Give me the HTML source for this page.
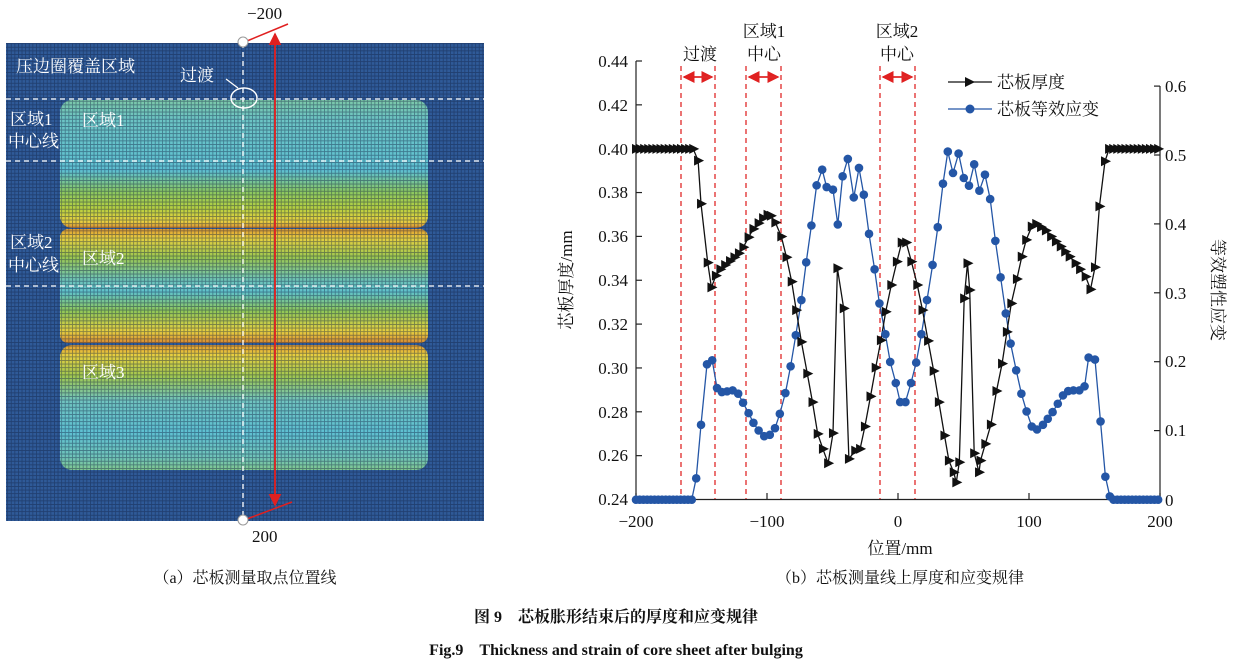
<!DOCTYPE html>
<html><head><meta charset="utf-8">
<style>
html,body{margin:0;padding:0;background:#fff;}
body{width:1233px;height:665px;overflow:hidden;position:relative;}
svg{position:absolute;left:0;top:0;}
.s{font-family:"Liberation Serif","Noto Serif CJK SC",serif;}
</style></head><body>
<svg id="sv" width="1233" height="665" viewBox="0 0 1233 665" xmlns="http://www.w3.org/2000/svg">
<defs>
<linearGradient id="b1" x1="0" y1="0" x2="0" y2="1">
<stop offset="0" stop-color="#7cc8a8"/><stop offset="0.15" stop-color="#6cc4c4"/><stop offset="0.55" stop-color="#5ec0d2"/><stop offset="0.72" stop-color="#8cc860"/><stop offset="0.85" stop-color="#b8d040"/><stop offset="0.95" stop-color="#e8d040"/><stop offset="1" stop-color="#d88a30"/>
</linearGradient>
<linearGradient id="b2" x1="0" y1="0" x2="0" y2="1">
<stop offset="0" stop-color="#e09a30"/><stop offset="0.08" stop-color="#e8d040"/><stop offset="0.25" stop-color="#9cc850"/><stop offset="0.45" stop-color="#6ec4b8"/><stop offset="0.55" stop-color="#60c2cc"/><stop offset="0.72" stop-color="#90c858"/><stop offset="0.9" stop-color="#e8d040"/><stop offset="1" stop-color="#d88a30"/>
</linearGradient>
<linearGradient id="b3" x1="0" y1="0" x2="0" y2="1">
<stop offset="0" stop-color="#e09a30"/><stop offset="0.08" stop-color="#e8d040"/><stop offset="0.25" stop-color="#a0c850"/><stop offset="0.45" stop-color="#70c4c0"/><stop offset="0.7" stop-color="#5ec0d2"/><stop offset="0.9" stop-color="#70c4b8"/><stop offset="1" stop-color="#80c890"/>
</linearGradient>
<pattern id="grid" width="3.6" height="3.6" patternUnits="userSpaceOnUse">
<rect width="3.6" height="3.6" fill="none"/>
<path d="M0 0.4H3.6M0.4 0V3.6" stroke="#102040" stroke-opacity="0.45" stroke-width="0.9"/>
</pattern>
<marker id="ah" markerWidth="8" markerHeight="8" refX="7" refY="4" orient="auto"><path d="M0 0L8 4L0 8z" fill="#e02020"/></marker>
</defs>

<!-- left image -->
<rect x="6" y="43" width="478" height="478" fill="#2f5a98"/>
<rect x="60" y="100" width="368" height="128" rx="12" fill="url(#b1)"/>
<rect x="60" y="229" width="368" height="114" rx="8" fill="url(#b2)"/>
<rect x="60" y="345" width="368" height="125" rx="12" fill="url(#b3)"/>
<rect x="6" y="43" width="478" height="478" fill="url(#grid)"/>
<g stroke="#fff" stroke-width="1.3" stroke-dasharray="5,4" fill="none">
<line x1="6" y1="99" x2="484" y2="99"/><line x1="6" y1="161" x2="484" y2="161"/><line x1="6" y1="286" x2="484" y2="286"/>
<line x1="243" y1="43" x2="243" y2="520"/>
</g>
<ellipse cx="244" cy="98" rx="13" ry="10" fill="none" stroke="#fff" stroke-width="1.5"/>
<line x1="226" y1="79" x2="238" y2="88" stroke="#fff" stroke-width="1.2"/>
<line x1="275" y1="505" x2="275" y2="34" stroke="#e02020" stroke-width="1.6" marker-end="url(#ah)"/>
<line x1="275" y1="34" x2="275" y2="505" stroke="#e02020" stroke-width="1.6" marker-end="url(#ah)"/>
<line x1="247" y1="41" x2="288" y2="24" stroke="#e02020" stroke-width="1.5"/>
<line x1="247" y1="519" x2="292" y2="502" stroke="#e02020" stroke-width="1.5"/>
<circle cx="243" cy="42" r="5" fill="#fff" stroke="#999" stroke-width="1"/>
<circle cx="243" cy="520" r="5" fill="#fff" stroke="#999" stroke-width="1"/>
<g class="s" font-size="17" fill="#111">
<text x="247" y="19">−200</text><text x="252" y="542">200</text>
</g>
<g class="s" font-size="17" fill="#fff">
<text x="16" y="72">压边圈覆盖区域</text>
<text x="180" y="81">过渡</text>
<text x="10" y="125">区域1</text><text x="8" y="147">中心线</text>
<text x="82" y="126">区域1</text>
<text x="10" y="248">区域2</text><text x="8" y="271">中心线</text>
<text x="82" y="264">区域2</text>
<text x="82" y="378">区域3</text>
</g>

<!-- chart axes -->
<g stroke="#222" stroke-width="1.2" fill="none">
<path d="M636 61V499.5H1160V86"/>
</g>
<g id="ticks" stroke="#222" stroke-width="1.2"></g>
<g class="s" font-size="17" fill="#111" text-anchor="end">
<text x="628" y="67">0.44</text><text x="628" y="111">0.42</text><text x="628" y="155">0.40</text><text x="628" y="198">0.38</text><text x="628" y="242">0.36</text><text x="628" y="286">0.34</text><text x="628" y="330">0.32</text><text x="628" y="374">0.30</text><text x="628" y="418">0.28</text><text x="628" y="461">0.26</text><text x="628" y="505">0.24</text>
</g>
<g class="s" font-size="17" fill="#111">
<text x="1165" y="92">0.6</text><text x="1165" y="161">0.5</text><text x="1165" y="230">0.4</text><text x="1165" y="299">0.3</text><text x="1165" y="367">0.2</text><text x="1165" y="436">0.1</text><text x="1165" y="506">0</text>
</g>
<g class="s" font-size="17" fill="#111" text-anchor="middle">
<text x="636" y="527">−200</text><text x="767" y="527">−100</text><text x="898" y="527">0</text><text x="1029" y="527">100</text><text x="1160" y="527">200</text>
<text x="900" y="554">位置/mm</text>
<text x="700" y="60">过渡</text>
<text x="764" y="37">区域1</text><text x="764" y="60">中心</text>
<text x="897" y="37">区域2</text><text x="897" y="60">中心</text>
</g>
<text class="s" font-size="17" fill="#111" text-anchor="middle" transform="translate(572,280) rotate(-90)">芯板厚度/mm</text>
<text class="s" font-size="17" fill="#111" text-anchor="middle" transform="translate(1212,290) rotate(90)">等效塑性应变</text>

<!-- red dashed -->
<g stroke="#e02828" stroke-width="1.3" stroke-dasharray="5,4">
<line x1="681" y1="66" x2="681" y2="499"/><line x1="715" y1="66" x2="715" y2="499"/>
<line x1="746" y1="66" x2="746" y2="499"/><line x1="781" y1="66" x2="781" y2="499"/>
<line x1="880" y1="66" x2="880" y2="499"/><line x1="915" y1="66" x2="915" y2="499"/>
</g>
<g stroke="#e02828" stroke-width="1.5">
<line x1="684" y1="77" x2="712" y2="77" marker-end="url(#ah)"/><line x1="712" y1="77" x2="684" y2="77" marker-end="url(#ah)"/>
<line x1="749" y1="77" x2="778" y2="77" marker-end="url(#ah)"/><line x1="778" y1="77" x2="749" y2="77" marker-end="url(#ah)"/>
<line x1="883" y1="77" x2="912" y2="77" marker-end="url(#ah)"/><line x1="912" y1="77" x2="883" y2="77" marker-end="url(#ah)"/>
</g>

<g id="series"></g>

<!-- legend -->
<line x1="948" y1="82" x2="992" y2="82" stroke="#111" stroke-width="1.3"/>
<path d="M965 77L975 82L965 87z" fill="#111"/>
<line x1="948" y1="109" x2="992" y2="109" stroke="#2456a6" stroke-width="1.3"/>
<circle cx="970" cy="109" r="4.5" fill="#2456a6"/>
<g class="s" font-size="17" fill="#111">
<text x="997" y="88">芯板厚度</text><text x="997" y="115">芯板等效应变</text>
</g>

<!-- captions -->
<g class="s" font-size="16" fill="#111" text-anchor="middle">
<text x="245" y="583">（a）芯板测量取点位置线</text>
<text x="900" y="583">（b）芯板测量线上厚度和应变规律</text>
</g>
<g class="s" font-size="16" fill="#111" text-anchor="middle" font-weight="bold">
<text x="616" y="622">图 9　芯板胀形结束后的厚度和应变规律</text>
<text x="616" y="655">Fig.9　Thickness and strain of core sheet after bulging</text>
</g>
</svg>
<script>
(function(){
var NS="http://www.w3.org/2000/svg";
var tk=document.getElementById('ticks'),se=document.getElementById('series');
function L(g,x1,y1,x2,y2){var l=document.createElementNS(NS,'line');l.setAttribute('x1',x1);l.setAttribute('y1',y1);l.setAttribute('x2',x2);l.setAttribute('y2',y2);g.appendChild(l);}
for(var i=0;i<=10;i++){var y=61+i*43.85;L(tk,636,y,642,y);}
for(var i=0;i<=6;i++){var y=499.5-i*68.9;L(tk,1160,y,1154,y);}
for(var i=0;i<=4;i++){var x=636+i*131;L(tk,x,499.5,x,493);}
function P(z){return [636+(z[0]-95)/1410*524,148.9+(z[1]-58)/2.99];}
var th=[];for(var x=95;x<=250;x+=11)th.push([x,58]);
th=th.concat([[262,93],[270,222],[288,398],[298,472],[310,437],[322,418],[335,405],[348,393],[360,382],[372,370],[384,352],[398,322],[411,297],[425,280],[437,265],[449,255],[458,258],[470,278],[486,320],[500,382],[514,455],[526,540],[540,635],[556,730],[570,815],[584,910],[598,955],[612,998],[625,908],[637,415],[654,535],[668,985],[685,960],[698,955],[711,888],[726,798],[740,712],[754,630],[767,545],[782,465],[797,395],[810,338],[822,338],[836,395],[852,465],[866,540],[881,632],[896,722],[910,815],[925,915],[937,990],[950,1025],[957,1055],[965,995],[978,505],[987,400],[993,480],[1005,968],[1018,1025],[1022,990],[1035,940],[1050,882],[1065,782],[1080,700],[1093,605],[1105,520],[1120,447],[1133,380],[1145,330],[1160,290],[1172,282],[1185,292],[1198,302],[1212,320],[1225,335],[1238,350],[1250,365],[1262,380],[1278,400],[1290,418],[1305,440],[1318,478],[1330,412],[1342,230],[1357,95],[1368,58]]);
for(var x=1379;x<=1500;x+=11)th.push([x,58]);
var bl=[];for(var x=95;x<=245;x+=10)bl.push([x,1107]);
bl=bl.concat([[257,1043],[270,883],[286,702],[300,690],[313,773],[326,785],[340,783],[355,780],[370,790],[383,817],[398,848],[411,877],[425,900],[440,917],[455,913],[469,893],[482,850],[497,788],[511,708],[525,615],[540,510],[553,397],[567,287],[581,167],[596,120],[608,172],[625,180],[638,284],[651,140],[665,88],[681,203],[695,115],[708,195],[722,312],[737,418],[750,520],[766,612],[779,695],[794,758],[806,815],[820,815],[835,758],[849,697],[863,612],[878,510],[893,405],[907,292],[921,162],[934,66],[948,130],[963,72],[977,145],[991,168],[1005,104],[1019,183],[1034,135],[1048,208],[1062,333],[1076,442],[1090,550],[1103,640],[1118,720],[1132,790],[1146,843],[1160,888],[1174,897],[1190,883],[1203,865],[1216,845],[1230,820],[1244,795],[1258,782],[1272,780],[1288,780],[1302,768],[1313,682],[1330,688],[1345,873],[1358,1038],[1370,1097]]);
for(var x=1380;x<=1500;x+=10)bl.push([x,1107]);
function line(pts,c){var d='';pts.forEach(function(z,i){var p=P(z);d+=(i?'L':'M')+p[0].toFixed(1)+' '+p[1].toFixed(1);});var e=document.createElementNS(NS,'path');e.setAttribute('d',d);e.setAttribute('fill','none');e.setAttribute('stroke',c);e.setAttribute('stroke-width','1.3');se.appendChild(e);}
line(bl,'#2456a6');line(th,'#111');
bl.forEach(function(z){var p=P(z);var c=document.createElementNS(NS,'circle');c.setAttribute('cx',p[0]);c.setAttribute('cy',p[1]);c.setAttribute('r',4.3);c.setAttribute('fill','#2456a6');se.appendChild(c);});
th.forEach(function(z){var p=P(z);var t=document.createElementNS(NS,'path');t.setAttribute('d','M'+(p[0]-4)+' '+(p[1]-5)+'L'+(p[0]+6)+' '+p[1]+'L'+(p[0]-4)+' '+(p[1]+5)+'z');t.setAttribute('fill','#111');se.appendChild(t);});
})();
</script>
</body></html>
